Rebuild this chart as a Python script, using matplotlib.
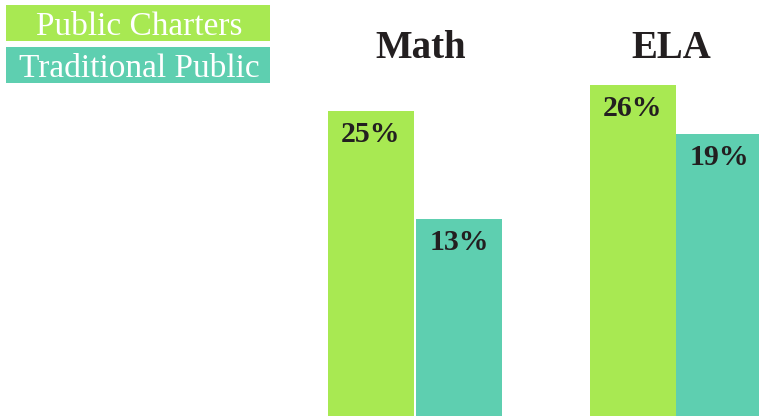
import matplotlib
matplotlib.use("Agg")
import matplotlib.pyplot as plt
from matplotlib.patches import Rectangle

# data
subjects = ["Math", "ELA"]
groups = ["Public Charters", "Traditional Public"]
colors = ["#a8e952", "#5ecfb0"]
math_values = [25, 13]
ela_values = [26, 19]

W, H = 759, 416
plt.rcParams["font.family"] = ["Liberation Serif", "DejaVu Serif"]

fig = plt.figure(figsize=(W / 100, H / 100), dpi=100)
fig.patch.set_facecolor("white")


def px(x, y):
    # pixel (from top-left) -> figure fraction
    return x / W, 1 - y / H


def panel(left, width, ylim, values, bar_w, title, title_x):
    ax = fig.add_axes([left / W, 0, width / W, 1])
    ax.set_xlim(-0.5, 1.5)
    ax.set_ylim(*ylim)
    floor = ylim[0] - 10
    xs = range(len(values))
    ax.bar(xs, [v - floor for v in values], bottom=floor, width=bar_w,
           color=colors, linewidth=0)
    for x, v in zip(xs, values):
        ax.annotate(f"{v}%", xy=(x, v), xytext=(0, -7), textcoords="offset points",
                    ha="center", va="top", fontsize=21.5, fontweight="bold",
                    color="#231f20")
    ax.axis("off")
    fx, fy = px(title_x, 58)
    fig.text(fx, fy, title, ha="center", va="baseline", fontsize=28,
             fontweight="bold", color="#231f20")
    return ax


panel(327, 176, (-8.89, 37.33), math_values, 86 / 88, subjects[0], 421)
panel(590, 172, (-21.29, 38.14), ela_values, 1.0, subjects[1], 671)

# legend boxes
box_tops = [5, 47]
for top, label, c in zip(box_tops, groups, colors):
    x0, y0 = px(6, top + 36)
    fig.add_artist(Rectangle((x0, y0), 264 / W, 36 / H, transform=fig.transFigure,
                             facecolor=c, edgecolor="none"))
    tx, ty = px(139, top + 30)
    fig.text(tx, ty, label, ha="center", va="baseline", fontsize=24, color="white")

fig.savefig("out.png", dpi=100, facecolor="white")
